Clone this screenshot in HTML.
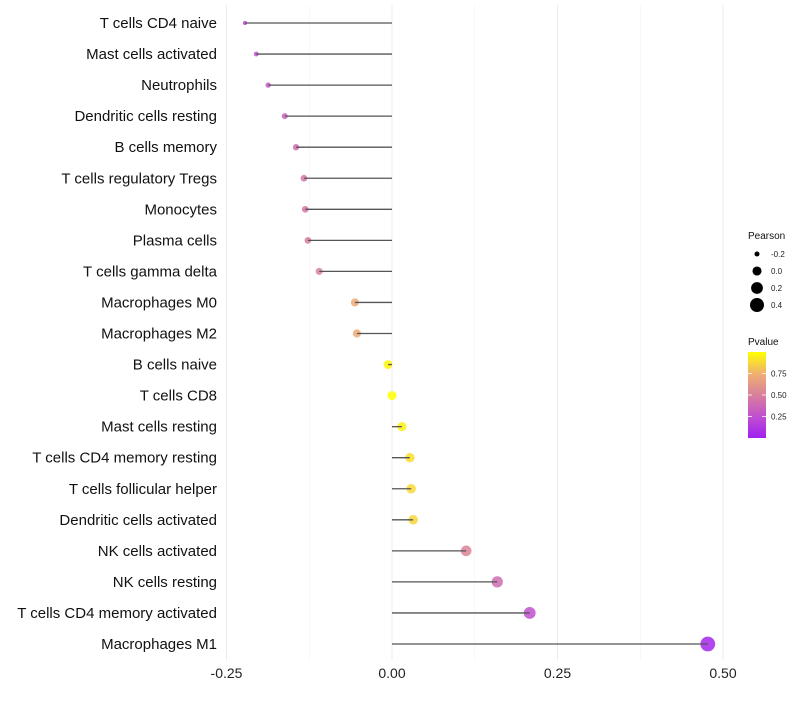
<!DOCTYPE html>
<html><head><meta charset="utf-8"><style>
body{margin:0;background:#fff;font-family:"Liberation Sans",sans-serif}
</style></head><body>
<svg id="chart" width="800" height="700" xmlns="http://www.w3.org/2000/svg" font-family="Liberation Sans, sans-serif">
<defs><linearGradient id="pg" x1="0" y1="1" x2="0" y2="0">
<stop offset="0" stop-color="#a020f0"/><stop offset="0.25" stop-color="#c050d0"/><stop offset="0.5" stop-color="#d8809c"/><stop offset="0.75" stop-color="#f0b070"/><stop offset="1" stop-color="#ffff00"/></linearGradient></defs>
<g id="grid"></g><g id="marks"></g><g id="labels"></g>
</svg>
<script>
const cells=["T cells CD4 naive","Mast cells activated","Neutrophils","Dendritic cells resting","B cells memory","T cells regulatory  Tregs","Monocytes","Plasma cells","T cells gamma delta","Macrophages M0","Macrophages M2","B cells naive","T cells CD8","Mast cells resting","T cells CD4 memory resting","T cells follicular helper","Dendritic cells activated","NK cells activated","NK cells resting","T cells CD4 memory activated","Macrophages M1"];
const pearson=[-0.222,-0.205,-0.187,-0.162,-0.145,-0.133,-0.131,-0.127,-0.110,-0.056,-0.053,-0.006,0.0,0.015,0.027,0.029,0.032,0.112,0.159,0.208,0.477];
const pvalue=[0.2,0.25,0.3,0.35,0.4,0.45,0.45,0.47,0.52,0.72,0.72,0.97,1.0,0.95,0.9,0.88,0.87,0.52,0.4,0.25,0.03];
const xTicks=[-0.25,0,0.25,0.5];
const xTickLabels=["-0.25","0.00","0.25","0.50"];
const NS="http://www.w3.org/2000/svg";
const x=v=>392+v*662;
const y=i=>23+i*31.05;
function mk(t,a,p){const e=document.createElementNS(NS,t);for(const k in a)e.setAttribute(k,a[k]);p.appendChild(e);return e;}
const stops=[[0,[160,32,240]],[0.25,[192,80,208]],[0.5,[216,128,156]],[0.75,[240,176,112]],[1,[255,255,0]]];
function col(p){for(let i=1;i<stops.length;i++){if(p<=stops[i][0]){const a=stops[i-1],b=stops[i];const t=(p-a[0])/(b[0]-a[0]);return 'rgb('+a[1].map((c,j)=>Math.round(c+(b[1][j]-c)*t)).join(',')+')';}}return 'rgb(255,255,0)';}
const rad=v=>Math.sqrt(Math.max(2,20.5+71*v));
const g=document.getElementById('grid'),m=document.getElementById('marks'),L=document.getElementById('labels');
[-0.125,0.125,0.375].forEach(v=>{const l=mk('line',{x1:x(v),x2:x(v),y1:5,y2:660,stroke:'#f2f2f2','stroke-width':0.6},g);

});
xTicks.forEach((v,i)=>{const l=mk('line',{x1:x(v),x2:x(v),y1:5,y2:660,stroke:'#ebebeb','stroke-width':1},g);


const t=mk('text',{x:x(v),y:678,'text-anchor':'middle','font-size':14,fill:'#222'},L);t.textContent=xTickLabels[i];

});
cells.forEach((c,i)=>{
const t=mk('text',{x:217,y:y(i)+5,'text-anchor':'end','font-size':15,fill:'#111'},L);t.textContent=c;


const d=mk('circle',{cx:x(pearson[i]),cy:y(i),r:rad(pearson[i]),fill:col(pvalue[i]),'fill-opacity':0.85},m);


const s=mk('line',{x1:x(0),x2:x(pearson[i]),y1:y(i),y2:y(i),stroke:'#555','stroke-width':1.3},m);


});
const lg=mk('g',{},L);


mk('text',{x:748,y:239,'font-size':10,fill:'#111'},lg).textContent='Pearson';
[-0.2,0,0.2,0.4].forEach((v,i)=>{const cy=254+i*17;const c=mk('circle',{cx:757,cy:cy,r:rad(v),fill:'#000'},lg);


mk('text',{x:771,y:cy+3,'font-size':8,fill:'#222'},lg).textContent=v.toFixed(1);});
mk('text',{x:748,y:345,'font-size':10,fill:'#111'},lg).textContent='Pvalue';
const bar=mk('rect',{x:748,y:352,width:18,height:86,fill:'url(#pg)'},lg);


[[0.75,'0.75'],[0.5,'0.50'],[0.25,'0.25']].forEach(([v,s])=>{const yy=438-v*86;
mk('line',{x1:748,x2:752,y1:yy,y2:yy,stroke:'#fff','stroke-width':0.8},lg);mk('line',{x1:762,x2:766,y1:yy,y2:yy,stroke:'#fff','stroke-width':0.8},lg);
mk('text',{x:771,y:yy+3,'font-size':8,fill:'#222'},lg).textContent=s;});
</script>
</body></html>
